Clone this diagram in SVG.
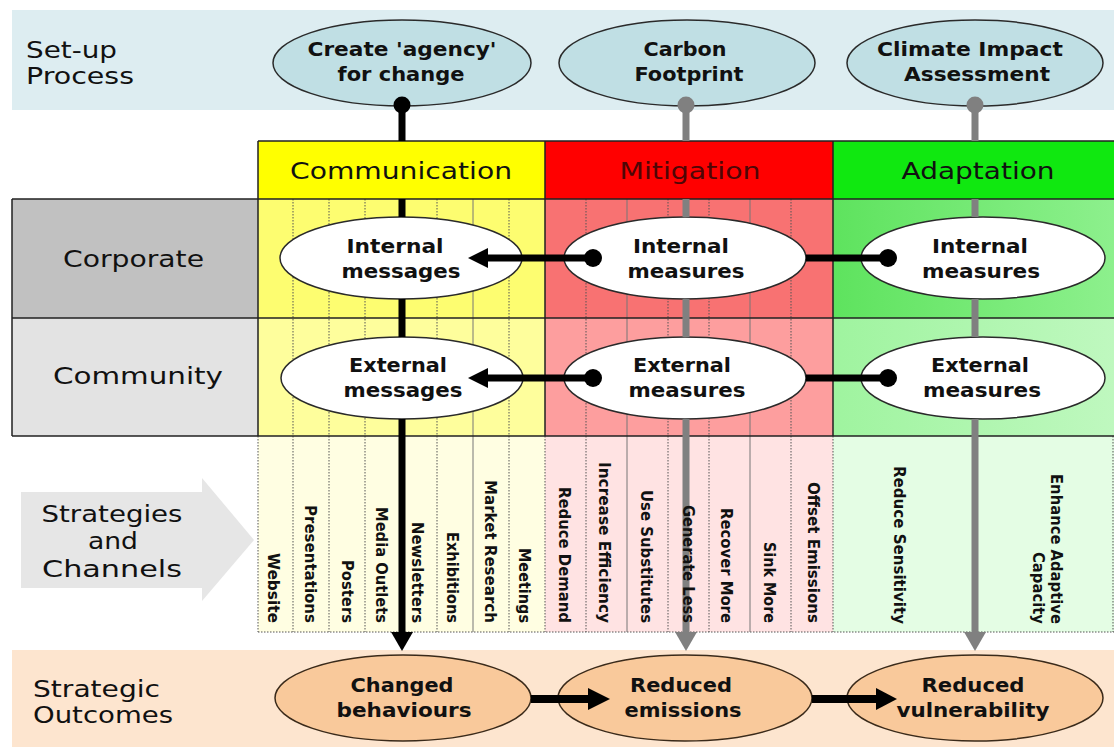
<svg xmlns="http://www.w3.org/2000/svg" width="1114" height="747" viewBox="0 0 1114 747">
  <defs>
    <style>
      .lbl { font-family: 'DejaVu Sans', Verdana, sans-serif; font-size: 23px; fill: #111; }
      .hdr { font-family: 'DejaVu Sans', Verdana, sans-serif; font-size: 23px; fill: #111; text-anchor: middle; }
      .nd { font-family: 'DejaVu Sans', Verdana, sans-serif; font-size: 19px; font-weight: bold; fill: #111; text-anchor: middle; }
      .vl { font-family: 'DejaVu Sans', Verdana, sans-serif; font-size: 15px; font-weight: bold; fill: #111; text-anchor: end; }
      .top-el { fill: #c0dfe4; stroke: #2a2a2a; stroke-width: 1.5; }
      .mid-el { fill: #ffffff; stroke: #2a2a2a; stroke-width: 1.5; }
      .out-el { fill: #f9c99b; stroke: #3a2a1a; stroke-width: 1.5; }
      .rule { stroke: #222; stroke-width: 1.5; fill: none; }
      .dot-div { stroke: #555; stroke-width: 1; stroke-dasharray: 1.5 1.5; fill: none; }
      .solid-div { stroke: #777; stroke-width: 1; fill: none; }
      .blk { stroke: #000; stroke-width: 7; fill: none; }
      .gry { stroke: #808080; stroke-width: 7; fill: none; }
      .h-link { stroke: #000; stroke-width: 7; fill: none; }
    </style>
    <linearGradient id="adaptCorp" x1="0" y1="0" x2="1" y2="0">
      <stop offset="0" stop-color="#5ee35e"/>
      <stop offset="1" stop-color="#8df08d"/>
    </linearGradient>
    <linearGradient id="adaptComm" x1="0" y1="0" x2="1" y2="0">
      <stop offset="0" stop-color="#9ff49f"/>
      <stop offset="1" stop-color="#bff8bf"/>
    </linearGradient>
  </defs>

  <rect width="1114" height="747" fill="#ffffff"/>

  <!-- bands and grid -->
  <g id="backdrop">
    <rect x="12" y="10" width="1102" height="100" fill="#ddedf1"/>
    <rect x="12" y="650" width="1102" height="97" fill="#fde5cf"/>

    <!-- strategies arrow -->
    <polygon points="21,492 202,492 202,478 254,540 202,601 202,588 21,588" fill="#e6e6e6"/>

    <!-- theme header row -->
    <rect x="258" y="141" width="287" height="58" fill="#ffff00"/>
    <rect x="545" y="141" width="288" height="58" fill="#ff0000"/>
    <rect x="833" y="141" width="281" height="58" fill="#10e810"/>

    <!-- row labels -->
    <rect x="12" y="199" width="246" height="119" fill="#c1c1c1"/>
    <rect x="12" y="318" width="246" height="118" fill="#e3e3e3"/>

    <!-- corporate row cells -->
    <rect x="258" y="199" width="287" height="119" fill="#fdfd70"/>
    <rect x="545" y="199" width="288" height="119" fill="#f87272"/>
    <rect x="833" y="199" width="281" height="119" fill="url(#adaptCorp)"/>

    <!-- community row cells -->
    <rect x="258" y="318" width="287" height="118" fill="#fefe9c"/>
    <rect x="545" y="318" width="288" height="118" fill="#fd9e9e"/>
    <rect x="833" y="318" width="281" height="118" fill="url(#adaptComm)"/>

    <!-- strategies row cells -->
    <rect x="258" y="436" width="287" height="196" fill="#fffee2"/>
    <rect x="545" y="436" width="288" height="196" fill="#ffe3e3"/>
    <rect x="833" y="436" width="281" height="196" fill="#e4fde4"/>

    <!-- channel / strategy column dividers -->
    <g class="dot-div">
      <path d="M293 199V632M329 199V632M365 199V632M401 199V632M437 199V632M509 199V632"/>
      <path d="M586 199V632M668 199V632M709 199V632M791 199V632"/>
      <path d="M258 436V632M545 436V632M833 436V632M1113 436V632M258 632H1114"/>
    </g>
    <g class="solid-div">
      <path d="M473 199V632M627 199V632M750 199V632M975 199V632"/>
    </g>

    <!-- grid rules -->
    <g class="rule">
      <path d="M258 141H1114M12 199H1114M12 318H1114M12 436H1114"/>
      <path d="M12 199V436M258 141V436M545 141V436M833 141V436"/>
    </g>
  </g>

  <!-- row and band labels -->
  <g id="label-setup">
    <text class="lbl" x="26" y="58" textLength="91" lengthAdjust="spacingAndGlyphs">Set-up</text>
    <text class="lbl" x="26" y="84" textLength="108" lengthAdjust="spacingAndGlyphs">Process</text>
  </g>
  <g id="label-corporate">
    <text class="lbl" x="63" y="267" textLength="141" lengthAdjust="spacingAndGlyphs">Corporate</text>
  </g>
  <g id="label-community">
    <text class="lbl" x="53" y="384" textLength="170" lengthAdjust="spacingAndGlyphs">Community</text>
  </g>
  <g id="label-strategies">
    <text class="hdr" x="112" y="522" textLength="141" lengthAdjust="spacingAndGlyphs">Strategies</text>
    <text class="hdr" x="113" y="549" textLength="50" lengthAdjust="spacingAndGlyphs">and</text>
    <text class="hdr" x="112" y="577" textLength="140" lengthAdjust="spacingAndGlyphs">Channels</text>
  </g>
  <g id="label-outcomes">
    <text class="lbl" x="33" y="697" textLength="127" lengthAdjust="spacingAndGlyphs">Strategic</text>
    <text class="lbl" x="33" y="723" textLength="140" lengthAdjust="spacingAndGlyphs">Outcomes</text>
  </g>

  <!-- theme headers -->
  <g id="header-communication">
    <text class="hdr" x="401" y="179" textLength="222" lengthAdjust="spacingAndGlyphs">Communication</text>
  </g>
  <g id="header-mitigation">
    <text class="hdr" x="690" y="179" textLength="141" lengthAdjust="spacingAndGlyphs" style="fill:#4e0606">Mitigation</text>
  </g>
  <g id="header-adaptation">
    <text class="hdr" x="978" y="179" textLength="153" lengthAdjust="spacingAndGlyphs">Adaptation</text>
  </g>

  <!-- set-up process nodes -->
  <g id="node-create-agency">
    <ellipse class="top-el" cx="402" cy="63" rx="129" ry="43"/>
    <text class="nd" x="402" y="56" textLength="189" lengthAdjust="spacingAndGlyphs">Create 'agency'</text>
    <text class="nd" x="401" y="81" textLength="127" lengthAdjust="spacingAndGlyphs">for change</text>
  </g>
  <g id="node-carbon-footprint">
    <ellipse class="top-el" cx="687" cy="63" rx="128" ry="43"/>
    <text class="nd" x="685" y="56" textLength="83" lengthAdjust="spacingAndGlyphs">Carbon</text>
    <text class="nd" x="689" y="81" textLength="109" lengthAdjust="spacingAndGlyphs">Footprint</text>
  </g>
  <g id="node-climate-impact">
    <ellipse class="top-el" cx="975" cy="63" rx="128" ry="43"/>
    <text class="nd" x="970" y="56" textLength="186" lengthAdjust="spacingAndGlyphs">Climate Impact</text>
    <text class="nd" x="977" y="81" textLength="146" lengthAdjust="spacingAndGlyphs">Assessment</text>
  </g>

  <!-- corporate / community nodes -->
  <g id="node-internal-messages">
    <ellipse class="mid-el" cx="401" cy="258" rx="121" ry="41"/>
    <text class="nd" x="395" y="253" textLength="97" lengthAdjust="spacingAndGlyphs">Internal</text>
    <text class="nd" x="401" y="278" textLength="119" lengthAdjust="spacingAndGlyphs">messages</text>
  </g>
  <g id="node-internal-measures-mitigation">
    <ellipse class="mid-el" cx="685" cy="258" rx="121" ry="41"/>
    <text class="nd" x="681" y="253" textLength="96" lengthAdjust="spacingAndGlyphs">Internal</text>
    <text class="nd" x="686" y="278" textLength="117" lengthAdjust="spacingAndGlyphs">measures</text>
  </g>
  <g id="node-internal-measures-adaptation">
    <ellipse class="mid-el" cx="983" cy="258" rx="122" ry="41"/>
    <text class="nd" x="980" y="253" textLength="96" lengthAdjust="spacingAndGlyphs">Internal</text>
    <text class="nd" x="981" y="278" textLength="118" lengthAdjust="spacingAndGlyphs">measures</text>
  </g>
  <g id="node-external-messages">
    <ellipse class="mid-el" cx="402" cy="378" rx="121" ry="41"/>
    <text class="nd" x="398" y="372" textLength="98" lengthAdjust="spacingAndGlyphs">External</text>
    <text class="nd" x="403" y="397" textLength="119" lengthAdjust="spacingAndGlyphs">messages</text>
  </g>
  <g id="node-external-measures-mitigation">
    <ellipse class="mid-el" cx="685" cy="378" rx="121" ry="41"/>
    <text class="nd" x="682" y="372" textLength="98" lengthAdjust="spacingAndGlyphs">External</text>
    <text class="nd" x="687" y="397" textLength="117" lengthAdjust="spacingAndGlyphs">measures</text>
  </g>
  <g id="node-external-measures-adaptation">
    <ellipse class="mid-el" cx="983" cy="378" rx="122" ry="41"/>
    <text class="nd" x="980" y="372" textLength="98" lengthAdjust="spacingAndGlyphs">External</text>
    <text class="nd" x="982" y="397" textLength="118" lengthAdjust="spacingAndGlyphs">measures</text>
  </g>

  <!-- outcome nodes -->
  <g id="node-changed-behaviours">
    <ellipse class="out-el" cx="403" cy="698" rx="128" ry="43"/>
    <text class="nd" x="402" y="692" textLength="103" lengthAdjust="spacingAndGlyphs">Changed</text>
    <text class="nd" x="404" y="717" textLength="135" lengthAdjust="spacingAndGlyphs">behaviours</text>
  </g>
  <g id="node-reduced-emissions">
    <ellipse class="out-el" cx="685" cy="698" rx="127" ry="43"/>
    <text class="nd" x="681" y="692" textLength="102" lengthAdjust="spacingAndGlyphs">Reduced</text>
    <text class="nd" x="683" y="717" textLength="117" lengthAdjust="spacingAndGlyphs">emissions</text>
  </g>
  <g id="node-reduced-vulnerability">
    <ellipse class="out-el" cx="975" cy="698" rx="128" ry="43"/>
    <text class="nd" x="973" y="692" textLength="103" lengthAdjust="spacingAndGlyphs">Reduced</text>
    <text class="nd" x="973" y="717" textLength="153" lengthAdjust="spacingAndGlyphs">vulnerability</text>
  </g>

  <!-- connectors -->
  <g id="connectors">
    <!-- communication spine -->
    <path class="blk" d="M402 105V141M402 199V217M402 299V337M402 419V634"/>
    <polygon points="391,632 413,632 402,651" fill="#000"/>
    <circle cx="402" cy="105" r="8.5" fill="#000"/>

    <!-- mitigation spine -->
    <path class="gry" d="M686 105V141M686 199V217M686 299V337M686 419V634"/>
    <polygon points="675,632 697,632 686,651" fill="#808080"/>
    <circle cx="686" cy="105" r="8.5" fill="#808080"/>

    <!-- adaptation spine -->
    <path class="gry" d="M975 105V141M975 199V217M975 299V337M975 419V634"/>
    <polygon points="964,632 986,632 975,651" fill="#808080"/>
    <circle cx="975" cy="105" r="8.5" fill="#808080"/>

    <!-- measures feed messages -->
    <path class="h-link" d="M593 258H485M593 378H485"/>
    <polygon points="488,248 468,258 488,268" fill="#000"/>
    <polygon points="488,368 468,378 488,388" fill="#000"/>
    <circle cx="593" cy="258" r="9" fill="#000"/>
    <circle cx="593" cy="378" r="9" fill="#000"/>

    <!-- adaptation measures tie to mitigation measures -->
    <path class="h-link" d="M806 258H888M806 378H888"/>
    <circle cx="888" cy="258" r="9" fill="#000"/>
    <circle cx="888" cy="378" r="9" fill="#000"/>

    <!-- outcome chain -->
    <path stroke="#000" stroke-width="8" fill="none" d="M531 699H590M812 699H879"/>
    <polygon points="588,688 610,699 588,710" fill="#000"/>
    <polygon points="876,688 897,699 876,710" fill="#000"/>
  </g>

  <!-- communication channels -->
  <g id="channels-communication">
    <text class="vl" transform="translate(268,623) rotate(90)" textLength="70" lengthAdjust="spacingAndGlyphs">Website</text>
    <text class="vl" transform="translate(305,623) rotate(90)" textLength="118" lengthAdjust="spacingAndGlyphs">Presentations</text>
    <text class="vl" transform="translate(342,623) rotate(90)" textLength="63" lengthAdjust="spacingAndGlyphs">Posters</text>
    <text class="vl" transform="translate(376,623) rotate(90)" textLength="116" lengthAdjust="spacingAndGlyphs">Media Outlets</text>
    <text class="vl" transform="translate(412,623) rotate(90)" textLength="101" lengthAdjust="spacingAndGlyphs">Newsletters</text>
    <text class="vl" transform="translate(447,623) rotate(90)" textLength="91" lengthAdjust="spacingAndGlyphs">Exhibitions</text>
    <text class="vl" transform="translate(485,623) rotate(90)" textLength="143" lengthAdjust="spacingAndGlyphs">Market Research</text>
    <text class="vl" transform="translate(519,623) rotate(90)" textLength="75" lengthAdjust="spacingAndGlyphs">Meetings</text>
  </g>

  <!-- mitigation strategies -->
  <g id="strategies-mitigation">
    <text class="vl" transform="translate(559,623) rotate(90)" textLength="136" lengthAdjust="spacingAndGlyphs">Reduce Demand</text>
    <text class="vl" transform="translate(599,623) rotate(90)" textLength="161" lengthAdjust="spacingAndGlyphs">Increase Efficiency</text>
    <text class="vl" transform="translate(641,623) rotate(90)" textLength="133" lengthAdjust="spacingAndGlyphs">Use Substitutes</text>
    <text class="vl" transform="translate(683,623) rotate(90)" textLength="118" lengthAdjust="spacingAndGlyphs">Generate Less</text>
    <text class="vl" transform="translate(721,623) rotate(90)" textLength="115" lengthAdjust="spacingAndGlyphs">Recover More</text>
    <text class="vl" transform="translate(764,623) rotate(90)" textLength="81" lengthAdjust="spacingAndGlyphs">Sink More</text>
    <text class="vl" transform="translate(808,623) rotate(90)" textLength="141" lengthAdjust="spacingAndGlyphs">Offset Emissions</text>
  </g>

  <!-- adaptation strategies -->
  <g id="strategies-adaptation">
    <text class="vl" transform="translate(894,624) rotate(90)" textLength="158" lengthAdjust="spacingAndGlyphs">Reduce Sensitivity</text>
    <text class="vl" transform="translate(1051,624) rotate(90)" textLength="150" lengthAdjust="spacingAndGlyphs">Enhance Adaptive</text>
    <text class="vl" transform="translate(1033,624) rotate(90)" textLength="72" lengthAdjust="spacingAndGlyphs">Capacity</text>
  </g>
</svg>
